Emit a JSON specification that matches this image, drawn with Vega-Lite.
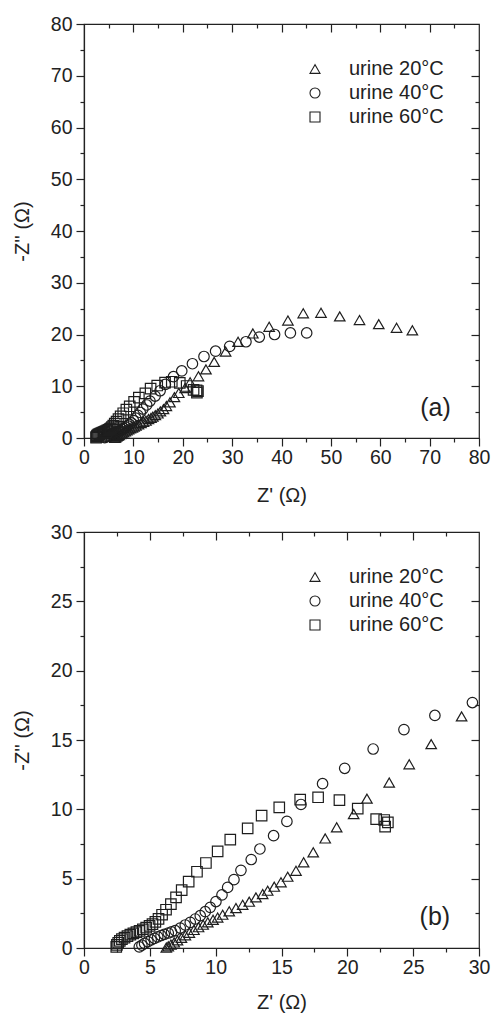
{
  "$schema": "https://vega.github.io/schema/vega-lite/v6.json",
  "padding": {"left": 11, "top": 13, "right": 5, "bottom": 0},
  "background": "white",
  "datasets": {
    "eis": [
      {"T": "urine 20°C", "x": 6.25, "y": 0.03},
      {"T": "urine 20°C", "x": 6.4, "y": 0.12},
      {"T": "urine 20°C", "x": 6.6, "y": 0.25},
      {"T": "urine 20°C", "x": 6.85, "y": 0.4},
      {"T": "urine 20°C", "x": 7.1, "y": 0.55},
      {"T": "urine 20°C", "x": 7.4, "y": 0.73},
      {"T": "urine 20°C", "x": 7.7, "y": 0.92},
      {"T": "urine 20°C", "x": 8.0, "y": 1.1},
      {"T": "urine 20°C", "x": 8.35, "y": 1.3},
      {"T": "urine 20°C", "x": 8.7, "y": 1.5},
      {"T": "urine 20°C", "x": 9.05, "y": 1.68},
      {"T": "urine 20°C", "x": 9.4, "y": 1.85},
      {"T": "urine 20°C", "x": 9.8, "y": 2.03},
      {"T": "urine 20°C", "x": 10.15, "y": 2.2},
      {"T": "urine 20°C", "x": 10.53, "y": 2.4},
      {"T": "urine 20°C", "x": 11.03, "y": 2.65},
      {"T": "urine 20°C", "x": 11.54, "y": 2.88},
      {"T": "urine 20°C", "x": 12.05, "y": 3.12},
      {"T": "urine 20°C", "x": 12.55, "y": 3.34},
      {"T": "urine 20°C", "x": 13.06, "y": 3.65},
      {"T": "urine 20°C", "x": 13.57, "y": 3.89},
      {"T": "urine 20°C", "x": 13.95, "y": 4.13},
      {"T": "urine 20°C", "x": 14.45, "y": 4.42},
      {"T": "urine 20°C", "x": 14.96, "y": 4.74},
      {"T": "urine 20°C", "x": 15.47, "y": 5.14},
      {"T": "urine 20°C", "x": 16.1, "y": 5.57},
      {"T": "urine 20°C", "x": 16.68, "y": 6.18},
      {"T": "urine 20°C", "x": 17.41, "y": 6.9},
      {"T": "urine 20°C", "x": 18.32, "y": 7.9},
      {"T": "urine 20°C", "x": 19.19, "y": 8.7},
      {"T": "urine 20°C", "x": 20.48, "y": 9.66},
      {"T": "urine 20°C", "x": 21.49, "y": 10.77},
      {"T": "urine 20°C", "x": 23.18, "y": 11.93},
      {"T": "urine 20°C", "x": 24.7, "y": 13.25},
      {"T": "urine 20°C", "x": 26.37, "y": 14.7},
      {"T": "urine 20°C", "x": 28.68, "y": 16.7},
      {"T": "urine 20°C", "x": 31.2, "y": 18.6},
      {"T": "urine 20°C", "x": 34.2, "y": 20.2},
      {"T": "urine 20°C", "x": 37.5, "y": 21.5},
      {"T": "urine 20°C", "x": 41.3, "y": 22.7},
      {"T": "urine 20°C", "x": 44.4, "y": 24.1},
      {"T": "urine 20°C", "x": 48.0, "y": 24.2},
      {"T": "urine 20°C", "x": 51.8, "y": 23.5},
      {"T": "urine 20°C", "x": 55.8, "y": 22.8},
      {"T": "urine 20°C", "x": 59.7, "y": 22.0},
      {"T": "urine 20°C", "x": 63.3, "y": 21.3},
      {"T": "urine 20°C", "x": 66.5, "y": 20.8},
      {"T": "urine 40°C", "x": 4.2, "y": 0.08},
      {"T": "urine 40°C", "x": 4.4, "y": 0.2},
      {"T": "urine 40°C", "x": 4.6, "y": 0.33},
      {"T": "urine 40°C", "x": 4.85, "y": 0.46},
      {"T": "urine 40°C", "x": 5.1, "y": 0.58},
      {"T": "urine 40°C", "x": 5.35, "y": 0.7},
      {"T": "urine 40°C", "x": 5.6, "y": 0.8},
      {"T": "urine 40°C", "x": 5.85, "y": 0.9},
      {"T": "urine 40°C", "x": 6.1, "y": 0.99},
      {"T": "urine 40°C", "x": 6.4, "y": 1.08},
      {"T": "urine 40°C", "x": 6.65, "y": 1.16},
      {"T": "urine 40°C", "x": 6.93, "y": 1.25},
      {"T": "urine 40°C", "x": 7.31, "y": 1.44},
      {"T": "urine 40°C", "x": 7.69, "y": 1.66},
      {"T": "urine 40°C", "x": 8.07, "y": 1.85},
      {"T": "urine 40°C", "x": 8.45, "y": 2.09},
      {"T": "urine 40°C", "x": 8.83, "y": 2.33},
      {"T": "urine 40°C", "x": 9.21, "y": 2.62},
      {"T": "urine 40°C", "x": 9.59, "y": 2.93},
      {"T": "urine 40°C", "x": 10.02, "y": 3.35},
      {"T": "urine 40°C", "x": 10.48, "y": 3.83},
      {"T": "urine 40°C", "x": 10.91, "y": 4.37},
      {"T": "urine 40°C", "x": 11.39, "y": 4.93},
      {"T": "urine 40°C", "x": 11.92, "y": 5.6},
      {"T": "urine 40°C", "x": 12.7, "y": 6.38},
      {"T": "urine 40°C", "x": 13.36, "y": 7.14},
      {"T": "urine 40°C", "x": 14.4, "y": 8.1},
      {"T": "urine 40°C", "x": 15.41, "y": 9.13},
      {"T": "urine 40°C", "x": 16.48, "y": 10.35},
      {"T": "urine 40°C", "x": 18.12, "y": 11.85},
      {"T": "urine 40°C", "x": 19.8, "y": 12.96},
      {"T": "urine 40°C", "x": 21.96, "y": 14.35},
      {"T": "urine 40°C", "x": 24.3, "y": 15.75},
      {"T": "urine 40°C", "x": 26.65, "y": 16.77},
      {"T": "urine 40°C", "x": 29.5, "y": 17.7},
      {"T": "urine 40°C", "x": 32.8, "y": 18.6},
      {"T": "urine 40°C", "x": 35.5, "y": 19.5},
      {"T": "urine 40°C", "x": 38.6, "y": 20.0},
      {"T": "urine 40°C", "x": 41.8, "y": 20.3},
      {"T": "urine 40°C", "x": 45.1, "y": 20.3},
      {"T": "urine 60°C", "x": 2.45, "y": 0.08},
      {"T": "urine 60°C", "x": 2.5, "y": 0.22},
      {"T": "urine 60°C", "x": 2.6, "y": 0.38},
      {"T": "urine 60°C", "x": 2.72, "y": 0.52},
      {"T": "urine 60°C", "x": 2.88, "y": 0.64},
      {"T": "urine 60°C", "x": 3.08, "y": 0.75},
      {"T": "urine 60°C", "x": 3.3, "y": 0.86},
      {"T": "urine 60°C", "x": 3.52, "y": 0.96},
      {"T": "urine 60°C", "x": 3.75, "y": 1.05},
      {"T": "urine 60°C", "x": 3.98, "y": 1.14},
      {"T": "urine 60°C", "x": 4.22, "y": 1.24},
      {"T": "urine 60°C", "x": 4.47, "y": 1.35},
      {"T": "urine 60°C", "x": 4.72, "y": 1.47},
      {"T": "urine 60°C", "x": 4.98, "y": 1.6},
      {"T": "urine 60°C", "x": 5.2, "y": 1.72},
      {"T": "urine 60°C", "x": 5.42, "y": 1.88},
      {"T": "urine 60°C", "x": 5.66, "y": 2.1},
      {"T": "urine 60°C", "x": 5.93, "y": 2.4},
      {"T": "urine 60°C", "x": 6.23, "y": 2.76},
      {"T": "urine 60°C", "x": 6.6, "y": 3.17},
      {"T": "urine 60°C", "x": 6.99, "y": 3.65},
      {"T": "urine 60°C", "x": 7.42, "y": 4.18},
      {"T": "urine 60°C", "x": 7.95, "y": 4.78},
      {"T": "urine 60°C", "x": 8.58, "y": 5.5},
      {"T": "urine 60°C", "x": 9.26, "y": 6.13},
      {"T": "urine 60°C", "x": 10.15, "y": 6.97},
      {"T": "urine 60°C", "x": 11.11, "y": 7.81},
      {"T": "urine 60°C", "x": 12.43, "y": 8.63},
      {"T": "urine 60°C", "x": 13.49, "y": 9.54},
      {"T": "urine 60°C", "x": 14.83, "y": 10.14},
      {"T": "urine 60°C", "x": 16.42, "y": 10.7},
      {"T": "urine 60°C", "x": 17.78, "y": 10.87},
      {"T": "urine 60°C", "x": 19.4, "y": 10.67},
      {"T": "urine 60°C", "x": 20.79, "y": 10.05},
      {"T": "urine 60°C", "x": 22.19, "y": 9.3},
      {"T": "urine 60°C", "x": 22.8, "y": 9.23},
      {"T": "urine 60°C", "x": 23.08, "y": 9.06},
      {"T": "urine 60°C", "x": 22.87, "y": 8.75}
    ]
  },
  "spacing": 14,
  "resolve": {"scale": {"x": "independent", "y": "independent", "shape": "independent"}, "legend": {"shape": "independent"}},
  "vconcat": [
    {
      "width": 395,
      "height": 414,
      "resolve": {"axis": {"x": "independent", "y": "independent"}},
      "layer": [
        {
          "data": {"name": "eis"},
          "mark": {"type": "point", "filled": false, "size": 110, "strokeWidth": 1.2, "color": "#1e1e1e", "opacity": 1},
          "encoding": {
            "x": {"field": "x", "type": "quantitative", "scale": {"domain": [0, 80], "nice": false, "zero": false},
                  "axis": {"orient": "bottom", "values": [0, 10, 20, 30, 40, 50, 60, 70, 80], "tickSize": 8, "labelPadding": 2, "title": "Z' (Ω)", "titlePadding": 19}},
            "y": {"field": "y", "type": "quantitative", "scale": {"domain": [0, 80], "nice": false, "zero": false},
                  "axis": {"orient": "left", "values": [0, 10, 20, 30, 40, 50, 60, 70, 80], "tickSize": 8, "labelPadding": 4, "title": "-Z'' (Ω)", "titlePadding": 18}},
            "shape": {"field": "T", "type": "nominal",
                      "scale": {"domain": ["urine 20°C", "urine 40°C", "urine 60°C"], "range": ["triangle-up", "circle", "square"]},
                      "legend": {"title": null, "orient": "top-right", "offset": 35, "padding": 0, "labelFontSize": 20, "labelOffset": 24, "symbolSize": 100, "symbolStrokeWidth": 1.1, "symbolStrokeColor": "#1e1e1e", "rowPadding": 4, "labelColor": "#222"}}
          }
        },
        {
          "data": {"name": "eis"},
          "mark": {"type": "point", "opacity": 0},
          "encoding": {
            "x": {"field": "x", "type": "quantitative", "axis": {"orient": "bottom", "values": [5, 15, 25, 35, 45, 55, 65, 75], "tickSize": 4, "labels": false, "domain": false, "title": null}},
            "y": {"field": "y", "type": "quantitative", "axis": {"orient": "left", "values": [5, 15, 25, 35, 45, 55, 65, 75], "tickSize": 4, "labels": false, "domain": false, "title": null}}
          }
        },
        {
          "data": {"name": "eis"},
          "mark": {"type": "point", "opacity": 0},
          "encoding": {
            "x": {"field": "x", "type": "quantitative", "axis": {"orient": "top", "values": [10, 20, 30, 40, 50, 60, 70], "tickSize": -8, "labels": false, "domain": false, "title": null}},
            "y": {"field": "y", "type": "quantitative", "axis": {"orient": "right", "values": [10, 20, 30, 40, 50, 60, 70], "tickSize": -8, "labels": false, "domain": false, "title": null}}
          }
        },
        {
          "data": {"name": "eis"},
          "mark": {"type": "point", "opacity": 0},
          "encoding": {
            "x": {"field": "x", "type": "quantitative", "axis": {"orient": "top", "values": [5, 15, 25, 35, 45, 55, 65, 75], "tickSize": -4, "labels": false, "domain": false, "title": null}},
            "y": {"field": "y", "type": "quantitative", "axis": {"orient": "right", "values": [5, 15, 25, 35, 45, 55, 65, 75], "tickSize": -4, "labels": false, "domain": false, "title": null}}
          }
        },
        {
          "data": {"values": [{"x": 71.2, "y": 5.8, "t": "(a)"}]},
          "mark": {"type": "text", "fontSize": 25, "align": "center", "baseline": "middle", "color": "#222"},
          "encoding": {
            "x": {"field": "x", "type": "quantitative", "axis": null},
            "y": {"field": "y", "type": "quantitative", "axis": null},
            "text": {"field": "t"}
          }
        }
      ]
    },
    {
      "width": 395,
      "height": 416,
      "resolve": {"axis": {"x": "independent", "y": "independent"}},
      "layer": [
        {
          "data": {"name": "eis"},
          "transform": [{"filter": "datum.x <= 30 && datum.y <= 30"}],
          "mark": {"type": "point", "filled": false, "size": 110, "strokeWidth": 1.2, "color": "#1e1e1e", "opacity": 1},
          "encoding": {
            "x": {"field": "x", "type": "quantitative", "scale": {"domain": [0, 30], "nice": false, "zero": false},
                  "axis": {"orient": "bottom", "values": [0, 5, 10, 15, 20, 25, 30], "tickSize": 8, "labelPadding": 2, "title": "Z' (Ω)", "titlePadding": 16}},
            "y": {"field": "y", "type": "quantitative", "scale": {"domain": [0, 30], "nice": false, "zero": false},
                  "axis": {"orient": "left", "values": [0, 5, 10, 15, 20, 25, 30], "tickSize": 8, "labelPadding": 4, "title": "-Z'' (Ω)", "titlePadding": 18}},
            "shape": {"field": "T", "type": "nominal",
                      "scale": {"domain": ["urine 20°C", "urine 40°C", "urine 60°C"], "range": ["triangle-up", "circle", "square"]},
                      "legend": {"title": null, "orient": "top-right", "offset": 35, "padding": 0, "labelFontSize": 20, "labelOffset": 24, "symbolSize": 100, "symbolStrokeWidth": 1.1, "symbolStrokeColor": "#1e1e1e", "rowPadding": 4, "labelColor": "#222"}}
          }
        },
        {
          "data": {"values": [{"x": 1, "y": 1}]},
          "mark": {"type": "point", "opacity": 0},
          "encoding": {
            "x": {"field": "x", "type": "quantitative", "axis": {"orient": "bottom", "values": [2.5, 7.5, 12.5, 17.5, 22.5, 27.5], "tickSize": 4, "labels": false, "domain": false, "title": null}},
            "y": {"field": "y", "type": "quantitative", "axis": {"orient": "left", "values": [2.5, 7.5, 12.5, 17.5, 22.5, 27.5], "tickSize": 4, "labels": false, "domain": false, "title": null}}
          }
        },
        {
          "data": {"values": [{"x": 1, "y": 1}]},
          "mark": {"type": "point", "opacity": 0},
          "encoding": {
            "x": {"field": "x", "type": "quantitative", "axis": {"orient": "top", "values": [5, 10, 15, 20, 25], "tickSize": -8, "labels": false, "domain": false, "title": null}},
            "y": {"field": "y", "type": "quantitative", "axis": {"orient": "right", "values": [5, 10, 15, 20, 25], "tickSize": -8, "labels": false, "domain": false, "title": null}}
          }
        },
        {
          "data": {"values": [{"x": 1, "y": 1}]},
          "mark": {"type": "point", "opacity": 0},
          "encoding": {
            "x": {"field": "x", "type": "quantitative", "axis": {"orient": "top", "values": [2.5, 7.5, 12.5, 17.5, 22.5, 27.5], "tickSize": -4, "labels": false, "domain": false, "title": null}},
            "y": {"field": "y", "type": "quantitative", "axis": {"orient": "right", "values": [2.5, 7.5, 12.5, 17.5, 22.5, 27.5], "tickSize": -4, "labels": false, "domain": false, "title": null}}
          }
        },
        {
          "data": {"values": [{"x": 26.65, "y": 2.25, "t": "(b)"}]},
          "mark": {"type": "text", "fontSize": 25, "align": "center", "baseline": "middle", "color": "#222"},
          "encoding": {
            "x": {"field": "x", "type": "quantitative", "axis": null},
            "y": {"field": "y", "type": "quantitative", "axis": null},
            "text": {"field": "t"}
          }
        }
      ]
    }
  ],
  "config": {
    "font": "Liberation Sans",
    "view": {"stroke": "#222", "strokeWidth": 1.2},
    "axis": {"grid": false, "domainColor": "#222", "tickColor": "#222", "labelColor": "#222", "titleColor": "#222",
             "domainWidth": 1.2, "tickWidth": 1.2, "labelFontSize": 19.5, "titleFontSize": 20, "titleFontWeight": "normal",
             "labelFont": "Liberation Sans", "titleFont": "Liberation Sans", "labelFlush": false, "labelOverlap": false},
    "legend": {"labelFont": "Liberation Sans"}
  }
}
